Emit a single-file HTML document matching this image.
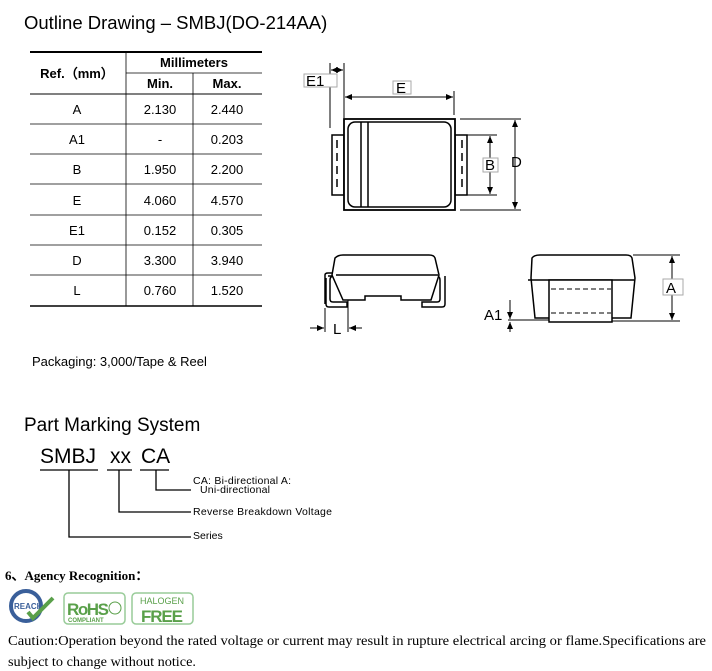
<!DOCTYPE html>
<html><head><meta charset="utf-8"><style>
html,body{margin:0;padding:0;background:#fff;}
svg{display:block}
.s{font-family:"Liberation Sans",Arial,sans-serif}
.r{font-family:"Liberation Serif","Times New Roman",serif}
</style></head><body>
<svg width="712" height="671" viewBox="0 0 712 671" xmlns="http://www.w3.org/2000/svg">
<defs>
<marker id="ar" markerWidth="8" markerHeight="8" refX="7" refY="4" orient="auto" markerUnits="userSpaceOnUse"><path d="M0,1 L7,4 L0,7 z" fill="#000"/></marker>
</defs>
<text x="24" y="29" class="s" font-size="18.5" fill="#000">Outline Drawing – SMBJ(DO-214AA)</text>

<g class="s" fill="#000" font-size="13" text-anchor="middle">
<line x1="30" y1="52" x2="262" y2="52" stroke="#000" stroke-width="2"/>
<line x1="126" y1="73" x2="262" y2="73" stroke="#000" stroke-width="0.8"/>
<line x1="30" y1="94" x2="262" y2="94" stroke="#000" stroke-width="1"/>
<line x1="126" y1="52" x2="126" y2="306" stroke="#000" stroke-width="0.8"/>
<line x1="193" y1="73" x2="193" y2="306" stroke="#000" stroke-width="0.8"/>
<line x1="30" y1="124" x2="262" y2="124" stroke="#000" stroke-width="0.8"/>
<line x1="30" y1="154" x2="262" y2="154" stroke="#000" stroke-width="0.8"/>
<line x1="30" y1="184" x2="262" y2="184" stroke="#000" stroke-width="0.8"/>
<line x1="30" y1="215" x2="262" y2="215" stroke="#000" stroke-width="0.8"/>
<line x1="30" y1="245" x2="262" y2="245" stroke="#000" stroke-width="0.8"/>
<line x1="30" y1="275" x2="262" y2="275" stroke="#000" stroke-width="0.8"/>
<line x1="30" y1="306" x2="262" y2="306" stroke="#000" stroke-width="1.5"/>
<text x="77" y="78" font-weight="bold">Ref.（mm）</text>
<text x="194" y="67" font-weight="bold">Millimeters</text>
<text x="160" y="88" font-weight="bold">Min.</text>
<text x="227" y="88" font-weight="bold">Max.</text>
<text x="77" y="114">A</text><text x="160" y="114">2.130</text><text x="227" y="114">2.440</text>
<text x="77" y="144">A1</text><text x="160" y="144">-</text><text x="227" y="144">0.203</text>
<text x="77" y="174">B</text><text x="160" y="174">1.950</text><text x="227" y="174">2.200</text>
<text x="77" y="205">E</text><text x="160" y="205">4.060</text><text x="227" y="205">4.570</text>
<text x="77" y="235">E1</text><text x="160" y="235">0.152</text><text x="227" y="235">0.305</text>
<text x="77" y="265">D</text><text x="160" y="265">3.300</text><text x="227" y="265">3.940</text>
<text x="77" y="295">L</text><text x="160" y="295">0.760</text><text x="227" y="295">1.520</text>
</g>

<g stroke="#000" fill="none" stroke-width="1">
<line x1="330" y1="63" x2="330" y2="128"/>
<line x1="344" y1="63" x2="344" y2="118"/>
<line x1="331" y1="70" x2="343" y2="70" marker-end="url(#ar)"/>
<line x1="343" y1="70" x2="331" y2="70" marker-end="url(#ar)"/>
<rect x="304" y="74" width="33" height="13" stroke="#aaa" fill="#fff"/>
<line x1="454" y1="91" x2="454" y2="115"/>
<line x1="350" y1="97" x2="453" y2="97" marker-end="url(#ar)"/>
<line x1="449" y1="97" x2="345" y2="97" marker-end="url(#ar)"/>
<rect x="393" y="81" width="18" height="13" stroke="#aaa" fill="#fff"/>
<rect x="332" y="135" width="12" height="60" stroke-width="1.5"/>
<rect x="455" y="135" width="12" height="60" stroke-width="1.5"/>
<line x1="337" y1="140" x2="337" y2="192" stroke-dasharray="8,5" stroke-width="1.5"/>
<line x1="462" y1="140" x2="462" y2="192" stroke-dasharray="8,5" stroke-width="1.5"/>
<rect x="344" y="119" width="111" height="91" stroke-width="1.8" fill="#fff"/>
<rect x="348" y="122" width="103" height="85" rx="7" stroke-width="1.5"/>
<line x1="361" y1="122" x2="361" y2="207" stroke-width="1.5"/>
<line x1="368" y1="122" x2="368" y2="207" stroke-width="1.5"/>
<line x1="467" y1="135" x2="497" y2="135"/>
<line x1="467" y1="195" x2="497" y2="195"/>
<line x1="490" y1="140" x2="490" y2="194" marker-end="url(#ar)"/>
<line x1="490" y1="190" x2="490" y2="136" marker-end="url(#ar)"/>
<rect x="483" y="158" width="15" height="14" stroke="#aaa" fill="#fff"/>
<line x1="460" y1="119" x2="521" y2="119"/>
<line x1="460" y1="210" x2="521" y2="210"/>
<line x1="515" y1="125" x2="515" y2="209" marker-end="url(#ar)"/>
<line x1="515" y1="205" x2="515" y2="120" marker-end="url(#ar)"/>
</g>
<g class="s" font-size="15" fill="#000">
<text x="306" y="86">E1</text>
<text x="396" y="93">E</text>
<text x="485" y="170">B</text>
<text x="511" y="167">D</text>
</g>

<g stroke="#000" fill="none" stroke-width="1.5">
<path d="M328,276 h12 l4,0 M326,278 v26 q0,3 3,3 h18 v-5 h-14 q-3,0 -3,-3 v-19 q0,-4 4,-4 h5"/>
<path d="M325,275 q0,-2 3,-2 h10 l6,27 M325,275 v29"/>
<path d="M445,276 v28 q0,3 -3,3 h-20 v-5 h15 q3,0 3,-3 v-19 q0,-4 -4,-4 h-5"/>
<path d="M335,258 q3,-3 8,-3 h86 q5,0 6,3 l4,17 l-8,25 h-30 v-4 h-36 v4 h-22 l-11,-25 z" fill="#fff"/>
<line x1="336" y1="275" x2="438" y2="275"/>
<line x1="325" y1="308" x2="325" y2="332" stroke-width="1"/>
<line x1="348" y1="300" x2="348" y2="332" stroke-width="1"/>
<line x1="310" y1="328" x2="324" y2="328" stroke-width="1" marker-end="url(#ar)"/>
<line x1="362" y1="328" x2="349" y2="328" stroke-width="1" marker-end="url(#ar)"/>
</g>
<text x="333" y="334" class="s" font-size="15">L</text>

<g stroke="#000" fill="none" stroke-width="1.5">
<path d="M532,258 q2,-3 8,-3 h86 q5,0 6,3 l3,20 l-4,40 h-96 l-4,-40 z" fill="#fff"/>
<line x1="528" y1="280" x2="634" y2="280"/>
<rect x="549" y="280" width="63" height="42" fill="#fff"/>
<line x1="551" y1="289" x2="611" y2="289" stroke-dasharray="5,3" stroke-width="1"/>
<line x1="551" y1="313" x2="611" y2="313" stroke-dasharray="5,3" stroke-width="1"/>
<g stroke-width="1">
<line x1="633" y1="255" x2="680" y2="255"/>
<line x1="612" y1="321" x2="680" y2="321"/>
<line x1="672" y1="262" x2="672" y2="320" marker-end="url(#ar)"/>
<line x1="672" y1="315" x2="672" y2="256" marker-end="url(#ar)"/>
<rect x="663" y="279" width="20" height="16" stroke="#aaa" fill="#fff"/>
<line x1="508" y1="320" x2="549" y2="320"/>
<line x1="510" y1="300" x2="510" y2="319" marker-end="url(#ar)"/>
<line x1="510" y1="332" x2="510" y2="322" marker-end="url(#ar)"/>
</g>
</g>
<text x="666" y="293" class="s" font-size="15">A</text>
<text x="484" y="320" class="s" font-size="15">A1</text>

<text x="32" y="366" class="s" font-size="13">Packaging: 3,000/Tape &amp; Reel</text>
<text x="24" y="431" class="s" font-size="19">Part Marking System</text>

<g class="s" fill="#000">
<text x="40" y="463" font-size="21">SMBJ</text>
<text x="110" y="463" font-size="21">xx</text>
<text x="141" y="463" font-size="21">CA</text>
<g stroke="#000" stroke-width="1.3" fill="none">
<line x1="40" y1="470" x2="98" y2="470"/>
<line x1="107" y1="470" x2="132" y2="470"/>
<line x1="140" y1="470" x2="169" y2="470"/>
<polyline points="156,470 156,490 191,490"/>
<polyline points="119,470 119,512 191,512"/>
<polyline points="69,470 69,537 191,537"/>
</g>
<text x="193" y="484" font-size="10.5" textLength="98">CA: Bi-directional A:</text>
<text x="200" y="493" font-size="10.5" textLength="70">Uni-directional</text>
<text x="193" y="515" font-size="10.5" textLength="139">Reverse Breakdown Voltage</text>
<text x="193" y="539" font-size="10.5">Series</text>
</g>

<text x="5" y="580" class="r" font-size="13" font-weight="bold">6、Agency Recognition：</text>

<g>
<circle cx="26" cy="606" r="15" fill="#fff" stroke="#3a5f9a" stroke-width="4"/>
<text x="14" y="609" class="s" font-size="8" font-weight="bold" fill="#3a5f9a">REACH</text>
<path d="M28,612 l5,6 l20,-20" stroke="#5aa04a" stroke-width="4" fill="none"/>
<rect x="64" y="593" width="61" height="31" rx="4" fill="#fff" stroke="#9c9" stroke-width="1.5"/>
<text x="67" y="615" class="s" font-size="17" font-weight="bold" fill="#5aa04a" textLength="42">RoHS</text>
<circle cx="115" cy="608" r="6" fill="none" stroke="#5aa04a"/>
<text x="68" y="622" class="s" font-size="6" font-weight="bold" fill="#5aa04a">COMPLIANT</text>
<rect x="132" y="593" width="61" height="31" rx="4" fill="#fff" stroke="#9c9" stroke-width="1.5"/>
<text x="162" y="604" class="s" font-size="9" fill="#5aa04a" text-anchor="middle">HALOGEN</text>
<text x="162" y="622" class="s" font-size="17" font-weight="bold" fill="#5aa04a" text-anchor="middle" textLength="42">FREE</text>
</g>

<text x="8" y="645" class="r" font-size="14" textLength="698" lengthAdjust="spacingAndGlyphs">Caution:Operation beyond the rated voltage or current may result in rupture electrical arcing or flame.Specifications are</text>
<text x="8" y="666" class="r" font-size="14" textLength="188" lengthAdjust="spacingAndGlyphs">subject to change without notice.</text>
</svg>
</body></html>
